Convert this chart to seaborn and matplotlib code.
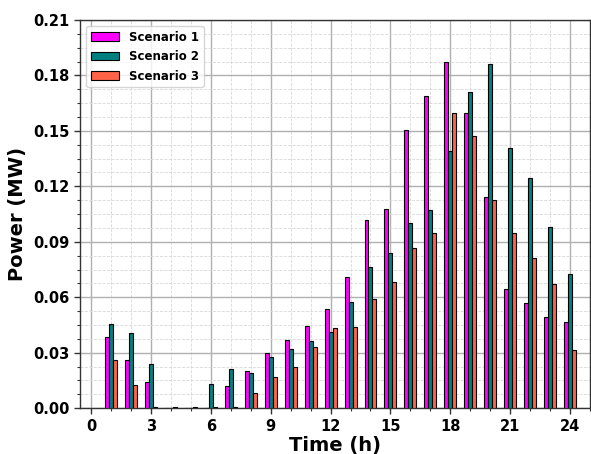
import matplotlib
matplotlib.use("Agg")
import matplotlib.pyplot as plt
import seaborn as sns
import pandas as pd
import numpy as np
from matplotlib.ticker import MultipleLocator

hours = list(range(1, 25))
scenario1 = [0.0387, 0.0261, 0.0140, 0.0, 0.0, 0.0, 0.0121, 0.0203, 0.0300, 0.0369,
             0.0443, 0.0538, 0.0709, 0.1017, 0.1076, 0.1503, 0.1687, 0.1872, 0.1597, 0.1145,
             0.0643, 0.0569, 0.0493, 0.0464]
scenario2 = [0.0454, 0.0409, 0.0239, 0.0003, 0.0003, 0.0130, 0.0212, 0.0189, 0.0275, 0.0319,
             0.0362, 0.0412, 0.0574, 0.0763, 0.0840, 0.1004, 0.1071, 0.1390, 0.1710, 0.1863,
             0.1407, 0.1244, 0.0981, 0.0724]
scenario3 = [0.0261, 0.0126, 0.0007, 0.0006, 0.0006, 0.0007, 0.0007, 0.0081, 0.0166, 0.0221,
             0.0329, 0.0434, 0.0439, 0.0592, 0.0682, 0.0864, 0.0950, 0.1597, 0.1471, 0.1125,
             0.0945, 0.0814, 0.0673, 0.0315]
names = ["Scenario 1", "Scenario 2", "Scenario 3"]
colors = ["#FF00FF", "#008080", "#FF6347"]

df = pd.DataFrame({
    "Time": hours * 3,
    "Power": scenario1 + scenario2 + scenario3,
    "Scenario": [names[0]] * 24 + [names[1]] * 24 + [names[2]] * 24,
})

sns.set_style("white")
plt.rcParams['font.family'] = ['DejaVu Sans']
plt.rcParams['text.color'] = 'black'
plt.rcParams['axes.labelcolor'] = 'black'
plt.rcParams['xtick.color'] = 'black'
plt.rcParams['ytick.color'] = 'black'

fig = plt.figure(figsize=(5.91, 4.54), dpi=100)
ax = fig.add_axes([0.136, 0.101, 0.862, 0.855])

sns.barplot(data=df, x="Time", y="Power", hue="Scenario", palette=colors,
            native_scale=True, width=0.6, edgecolor="black", linewidth=0.8,
            saturation=1, ax=ax, zorder=3)

ax.set_xlim(-0.55, 25.0)
ax.set_ylim(0, 0.21)
ax.xaxis.set_major_locator(MultipleLocator(3))
ax.xaxis.set_minor_locator(MultipleLocator(1))
ax.yaxis.set_major_locator(MultipleLocator(0.03))
ax.yaxis.set_minor_locator(MultipleLocator(0.0075))
ax.yaxis.set_major_formatter(matplotlib.ticker.FormatStrFormatter('%.2f'))

ax.grid(which="major", color="#b0b0b0", linewidth=1.0, linestyle="-", zorder=0)
ax.grid(which="minor", color="#d8d8d8", linewidth=0.6, linestyle="--", zorder=0)
ax.set_axisbelow(True)

ax.tick_params(which="major", direction="out", length=4, width=1, labelsize=10.5,
               bottom=True, left=True, colors="#333333", labelcolor="black")
ax.tick_params(which="minor", direction="out", length=2.5, width=0.8, bottom=True, left=True,
               colors="#333333")
for lab in ax.get_xticklabels() + ax.get_yticklabels():
    lab.set_fontweight("bold")

for s in ax.spines.values():
    s.set_color("#333333")
    s.set_linewidth(1.0)

ax.set_xlabel("Time (h)", fontsize=14, fontweight="bold", labelpad=2, color="black")
ax.set_ylabel("Power (MW)", fontsize=14, fontweight="bold", labelpad=5, color="black")

leg = ax.legend(loc="upper left", prop={"weight": "bold", "size": 8.5}, frameon=True,
                handlelength=2.4, labelspacing=0.55, borderaxespad=0.5)
leg.set_title(None)

fig.savefig("out.png", dpi=100)
